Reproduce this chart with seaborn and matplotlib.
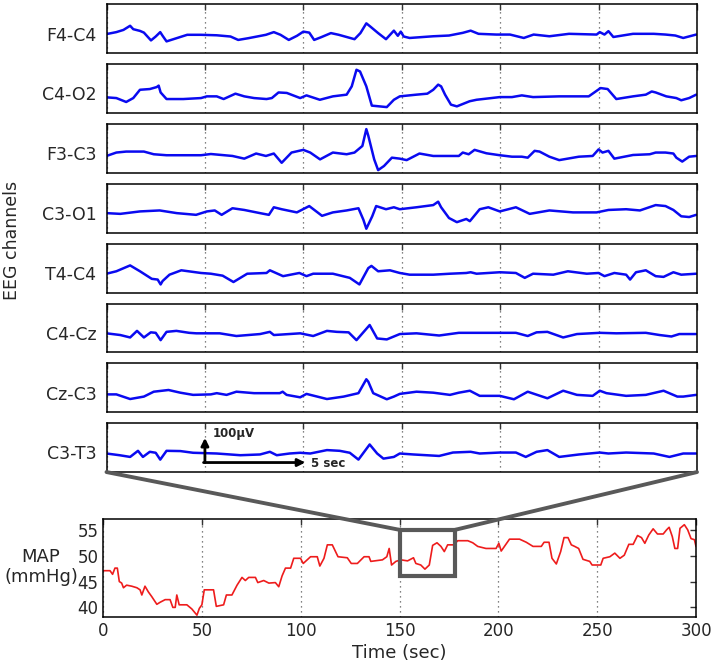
import numpy as np
import pandas as pd
import matplotlib
matplotlib.use("Agg")
import matplotlib.pyplot as plt
import seaborn as sns
from matplotlib.patches import Rectangle, ConnectionPatch

# ------------------------------------------------------------
# data (EEG in uV, MAP in mmHg)
# ------------------------------------------------------------
channels = ["F4-C4", "C4-O2", "F3-C3", "C3-O1", "T4-C4", "C4-Cz", "Cz-C3", "C3-T3"]

f4c4_t = [0, 5, 8.6, 12, 13.6, 17, 19, 22.6, 25, 27.3, 28.5, 30.5, 34, 41, 48, 56, 63, 66.9, 72, 81,
          85, 88.4, 92.6, 96.8, 100, 103, 105.5, 109, 114, 118, 126, 129, 132, 134, 138, 142, 146, 148,
          149.5, 151, 154, 166, 174, 181, 185, 189, 198, 205, 212, 217, 225, 235, 249, 250.6, 253, 255,
          257.5, 267.5, 278, 284, 289, 293, 299.6]
f4c4_v = [-22, -14, -5, 12, -2, -9, -16, -48, -32, -14, -29, -52, -43, -25, -25, -27, -32, -46, -39, -25,
          -14, -25, -46, -29, -12, -16, -46, -35, -18, -25, -43, -18, 22, 9, -18, -43, -8, -29,
          -12, -32, -38, -31, -28, -17, -8, -21, -24, -24, -38, -24, -31, -21, -24, -14, -24, -10,
          -34, -21, -21, -24, -28, -38, -24]

c4o2_t = [0, 5, 10, 13.6, 17, 22, 25.5, 26.5, 27.5, 30.5, 39, 48, 51, 56, 59.5, 65.5, 70, 75, 81.3, 84,
          87.4, 91.6, 98.4, 101.6, 108.4, 115, 122, 124.6, 127, 128.8, 132, 134.8, 142.4, 146, 149,
          157.5, 163, 166, 168.5, 170, 172, 175, 178, 184.5, 188, 199.8, 206, 211, 216.7, 230, 245, 251,
          254.6, 259, 267.5, 274, 277, 279, 284.4, 289.5, 292, 296, 299.6]
c4o2_v = [-36, -39, -55, -39, -5, -2, 6, 12, -16, -43, -43, -39, -32, -32, -43, -21, -32, -39, -43, -39,
          -16, -18, -39, -28, -46, -32, -25, 9, 77, 70, 9, -70, -76, -46, -32,
          -25, -21, -5, 16, 9, -25, -66, -73, -52, -46, -35, -35, -28, -35, -32, -32, 2,
          -2, -43, -32, -25, -12, -16, -32, -39, -48, -39, -25]

f3c3_t = [0, 5, 10, 19, 24, 30.5, 41, 48, 53, 64, 70, 76, 81, 85, 89, 94, 100, 103.5, 108.5, 115,
          122, 126, 130, 132, 133, 136, 138, 141, 145, 149, 152.5, 159, 166, 179, 181, 184, 187, 193,
          199.8, 206, 211, 214, 217.5, 220, 225, 230, 240, 247, 250, 252, 255, 258, 267.5, 276, 279,
          284, 288, 289.5, 292.5, 296, 299.6]
f3c3_v = [-31, -17, -13, -13, -24, -28, -28, -28, -23, -31, -42, -21, -31, -21, -59, -17, -6, -17, -45, -17,
          -24, -17, 10, 79, 52, -45, -89, -72, -38, -42, -48, -21, -31, -31, -17, -24, -6, -20,
          -28, -34, -34, -38, -10, -13, -34, -48, -34, -31, -4, -17, -10, -42, -27, -24, -17,
          -17, -21, -38, -54, -34, -31]

c3o1_t = [0, 7, 17, 27, 35.7, 45.5, 51, 55, 58.5, 64, 70, 78, 82.5, 85, 89, 96.7, 103, 109.5, 115, 122,
          128, 130.5, 132, 135, 137, 142, 146, 149, 157.5, 166, 168.5, 170, 174, 178, 182.8, 184.6,
          189.6, 194, 199.8, 208, 215, 225, 237, 249, 255, 264, 271, 279, 284, 288, 292, 296, 299.6]
c3o1_v = [-20, -23, -13, -9, -20, -27, -13, -9, -27, 0, -7, -20, -27, 4, -4, -17, 9, -31, -17, -9,
          0, -47, -84, -33, 9, -4, 4, -4, 4, 13, 27, 4, -40, -57, -44, -53,
          -4, 4, -13, 4, -23, -9, -17, -17, -7, -4, -9, 13, 9, -7, -33, -36, -27]

t4c4_t = [0, 5, 12, 17, 23, 26, 27.5, 28.5, 32, 38, 48, 53, 59, 64.5, 71.5, 81.3, 83, 89.7, 98, 101.6,
          105, 115, 123.6, 128.5, 133, 134.6, 138, 144, 149, 154, 166, 174.5, 182.8, 185, 188, 199.8,
          208, 212.5, 216.7, 227, 234.4, 244, 250, 253, 258, 264, 266, 269, 274, 279, 283, 288, 292, 299.6]
t4c4_v = [-23, -13, 11, -13, -44, -47, -67, -53, -27, -9, -20, -23, -31, -57, -23, -20, -9, -33, -20, -33,
          -23, -23, -40, -67, 0, 9, -13, -9, -20, -27, -27, -23, -20, -17, -23, -17,
          -20, -40, -23, -27, -13, -23, -20, -33, -20, -27, -47, -17, -9, -33, -36, -17, -27, -23]

c4cz_t = [0, 7, 12, 15.5, 19, 22.5, 25, 27.5, 30.5, 35.5, 42, 45.6, 57.5, 66, 78, 83, 85, 89, 98.4, 105,
          112, 117, 123, 127, 133.7, 137.5, 142.4, 149, 157.5, 169, 179, 199.8, 208, 214, 218.5, 224,
          232, 239, 250.6, 259, 274, 281, 287, 291, 299.6]
c4cz_v = [-22, -29, -39, -12, -39, -18, -20, -50, -16, -12, -20, -22, -22, -33, -25, -16, -29, -27, -22, -33,
          -12, -16, -18, -50, 12, -43, -47, -25, -22, -31, -20, -20, -20, -33, -18, -16,
          -39, -25, -20, -22, -20, -29, -35, -25, -25]

czc3_t = [0, 5, 12, 19, 24, 31.5, 37.5, 44, 53, 56, 61, 66, 75, 88, 89.5, 91.5, 98.4, 101.6, 112, 120.5,
          128, 132, 133, 135.5, 142.4, 146, 149, 157.5, 166, 174.5, 179, 184.6, 189.6, 199.8, 207, 214,
          224, 232, 239, 247, 250.6, 254, 264, 274, 283, 290, 293, 299.6]
czc3_v = [-27, -27, -46, -36, -16, -9, -20, -29, -27, -22, -29, -16, -22, -22, -16, -29, -39, -25, -46, -36,
          -22, 35, 25, -22, -47, -36, -25, -16, -20, -29, -20, -12, -33, -33, -47, -16,
          -43, -12, -29, -33, -12, -22, -33, -29, -12, -36, -36, -29]

c3t3_t = [0, 6.6, 12, 16, 18.5, 22, 25, 27.3, 30.5, 37.5, 44, 56, 68, 78, 83, 86.5, 93, 98.4, 103.5, 112,
          118.5, 123.6, 128, 133.7, 137.5, 140.7, 146, 149, 156, 169, 176, 185, 189.6, 199.8, 208, 213,
          218.5, 224, 230, 240, 250.6, 255, 264, 278, 286, 293, 299.6]
c3t3_v = [-24, -31, -38, -13, -38, -17, -21, -49, -13, -14, -21, -24, -31, -28, -17, -31, -24, -21, -24, -10,
          -13, -21, -49, 13, -24, -45, -38, -24, -28, -34, -20, -17, -24, -20, -20, -38,
          -17, -10, -38, -28, -20, -24, -20, -24, -38, -24, -24]

map_t = [0, 3.4, 4.7, 5.9, 7.1, 8.1, 9.3, 10.2, 11.8, 14.4, 17, 18.6, 19.5, 21.1, 22.8, 24.5, 27.1, 28.8,
         31.3, 33.8, 35.2, 36.4, 37.2, 38.4, 42.3, 44.8, 47.4, 48.6, 49.9, 51.1, 55.8, 57.2, 60.9, 62.3,
         65.1, 67.7, 70.2, 71.9, 73.6, 77, 78.2, 81.2, 83.8, 87.1, 88.8, 90.5, 92.2, 94.8, 96.4, 99.8,
         101.2, 104.9, 108.3, 109.6, 111.7, 113.4, 115.9, 118.8, 123.5, 125.5, 128.6, 132, 134.5, 135.4,
         141.3, 143.5, 144.7, 145.9, 148.1, 150.6, 154, 157, 158.2, 160.7, 162.8, 165, 166.7, 168.9,
         170.9, 172.6, 174.3, 177.4, 179.4, 184.5, 187, 189.5, 193.7, 198.8, 200.2, 201.4, 205.6, 210.7,
         214.1, 217.5, 221.7, 223.1, 225.6, 227.1, 229.3, 231.5, 233.2, 235.2, 236.9, 238.6, 240.6,
         242.8, 246.2, 247.4, 251.8, 253, 256.4, 258.9, 261.5, 263.7, 266, 268.2, 270.4, 272.4, 274.1,
         276.1, 278.3, 280.5, 283.4, 285.1, 286.4, 288, 289.3, 290.7, 291.9, 294.1, 295.8, 297.5, 299.2, 300]
map_v = [47.1, 47.1, 46.4, 47.6, 47.6, 45.0, 44.7, 43.8, 44.3, 44.1, 43.8, 43.4, 42.4, 44.1, 43.0, 42.1, 40.6, 41.0,
         41.5, 41.5, 40.0, 40.0, 42.4, 40.5, 40.5, 39.7, 38.5, 39.8, 40.5, 43.4, 43.4, 40.2, 40.5, 42.4,
         42.4, 44.3, 45.8, 45.2, 45.8, 45.8, 44.8, 45.2, 44.7, 44.8, 44.0, 46.1, 47.6, 47.6, 49.5, 49.5,
         48.5, 49.8, 49.8, 48.0, 49.5, 52.1, 52.1, 49.8, 49.6, 48.5, 48.5, 49.8, 49.8, 48.9,
         49.2, 49.8, 51.4, 48.2, 48.9, 49.2, 49.0, 49.6, 48.5, 48.2, 47.4, 48.2, 52.0, 52.5,
         51.8, 50.8, 52.1, 52.1, 52.9, 52.9, 52.5, 51.8, 51.4, 51.4, 52.4, 50.9, 53.2, 53.2,
         52.6, 51.8, 51.8, 52.6, 52.6, 49.5, 48.4, 50.8, 53.5, 53.5, 52.1, 51.8, 51.4,
         49.3, 48.9, 48.2, 48.2, 49.5, 49.8, 50.5, 49.5, 50.1, 52.2, 52.2, 53.9, 53.5, 52.4,
         54.0, 55.2, 54.2, 54.2, 55.0, 55.5, 53.7, 51.4, 51.4, 55.3, 56.0, 55.0, 53.3, 53.1, 51.8]

eeg_traces = [(f4c4_t, f4c4_v), (c4o2_t, c4o2_v), (f3c3_t, f3c3_v), (c3o1_t, c3o1_v),
              (t4c4_t, t4c4_v), (c4cz_t, c4cz_v), (czc3_t, czc3_v), (c3t3_t, c3t3_v)]

zoom_window = (150, 178, 46, 55)   # t0, t1, y0, y1 of the gray box
grid_ticks = [0, 50, 100, 150, 200, 250, 300]

# ------------------------------------------------------------
# style
# ------------------------------------------------------------
sns.set_style("white")
plt.rcParams.update({
    "font.family": ["DejaVu Sans"],
    "xtick.direction": "in",
    "ytick.direction": "in",
    "xtick.top": True,
    "ytick.right": True,
    "axes.edgecolor": "black",
    "axes.linewidth": 1.1,
})

W, H = 714, 668
fig = plt.figure(figsize=(W / 100, H / 100), dpi=100)


def px_axes(left, top, width, height):
    return fig.add_axes([left / W, 1 - (top + height) / H, width / W, height / H])


def add_grid(ax):
    ax.set_xticks(grid_ticks)
    ax.grid(True, axis="x", color="0.35", linestyle=(0, (1, 3)), linewidth=0.9)
    ax.grid(False, axis="y")
    ax.tick_params(axis="both", length=4, width=1, color="0.2")


# EEG panels
eeg_axes = []
for i, (name, (t, v)) in enumerate(zip(channels, eeg_traces)):
    ax = px_axes(106.5, 4.3 + 59.85 * i, 590.5, 48.8)
    sns.lineplot(x=t, y=v, ax=ax, color="#0a0af0", linewidth=1.8)
    ax.set_xlim(0, 300)
    ax.set_ylim(-100, 100)
    add_grid(ax)
    ax.set_yticks([])
    ax.set_xticklabels([])
    ax.set_xlabel("")
    ax.text(-0.017, 0.36, name, transform=ax.transAxes, ha="right", va="center", fontsize=12.5)
    eeg_axes.append(ax)

fig.text(12 / W, 1 - 240 / H, "EEG channels", rotation=90, ha="center", va="center", fontsize=12.5)

# scale bar in the last EEG panel
ax = eeg_axes[-1]
arrow_kw = dict(arrowstyle="-|>", lw=2, color="black", mutation_scale=11, shrinkA=0, shrinkB=0)
ax.annotate("", xy=(50, 40), xytext=(50, -61), arrowprops=arrow_kw, annotation_clip=False)
ax.annotate("", xy=(101, -61), xytext=(49.3, -61), arrowprops=arrow_kw, annotation_clip=False)
ax.text(54, 56, "100\u00b5V", fontsize=8.5, fontweight="bold", ha="left", va="center", clip_on=False)
ax.text(104, -66, "5 sec", fontsize=8.5, fontweight="bold", ha="left", va="center", clip_on=False)

# MAP panel
ax_map = px_axes(103.3, 519, 592.7, 97.7)
sns.lineplot(x=map_t, y=map_v, ax=ax_map, color="#ee1c1c", linewidth=1.2)
ax_map.set_xlim(0, 300)
ax_map.set_ylim(38.2, 57.1)
add_grid(ax_map)
ax_map.set_yticks([40, 45, 50, 55])
ax_map.tick_params(labelsize=12)
ax_map.set_xlabel("Time (sec)", fontsize=13, labelpad=3)
ax_map.set_ylabel("")
fig.text(41 / W, 1 - 567 / H, "MAP\n(mmHg)", ha="center", va="center", fontsize=13, linespacing=1.1)

t0, t1, y0, y1 = zoom_window
box = Rectangle((t0, y0), t1 - t0, y1 - y0, fill=False, edgecolor="0.35", linewidth=3, zorder=5)
ax_map.add_patch(box)

for xa, xb in [(0, t0), (1, t1)]:
    con = ConnectionPatch(xyA=(xa, 0), coordsA="axes fraction", axesA=eeg_axes[-1],
                          xyB=(xb, y1), coordsB="data", axesB=ax_map,
                          color="0.35", linewidth=2.8, zorder=6)
    fig.add_artist(con)

fig.savefig("out.png", dpi=100)
